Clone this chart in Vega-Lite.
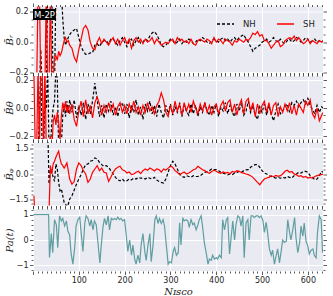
{
"$schema": "https://vega.github.io/schema/vega-lite/v6.json",
"padding": {"left": 4, "top": 2.5, "right": 0, "bottom": 0},
"background": "white",
"bounds": "flush",
"spacing": 3.5,
"config": {
  "view": {"fill": "#EAEAF2", "stroke": null},
  "axis": {"domain": false, "tickColor": "#333333", "tickWidth": 0.8, "labelFont": "DejaVu Sans", "labelFontSize": 8, "labelColor": "#262626", "labelPadding": 1.5, "labelOverlap": false, "titleFont": "DejaVu Serif", "titleFontStyle": "italic", "titleFontWeight": "normal", "titleFontSize": 10, "titleColor": "#262626", "gridColor": "white", "gridWidth": 1}
},
"datasets": {
"b": [
{"n":2,"rN":-0.3,"rS":-0.3,"tN":-0.3,"tS":0.25,"pN":3,"pS":-1.3},
{"n":5,"rN":-0.3,"rS":-0.3,"tN":-0.3,"tS":-0.3,"pN":3,"pS":-3},
{"n":8,"rN":-0.3,"rS":-0.3,"tN":-0.3,"tS":-0.3,"pN":3,"pS":-3},
{"n":11,"rN":-0.3,"rS":0.35,"tN":-0.3,"tS":0.3,"pN":3,"pS":-3},
{"n":14,"rN":-0.3,"rS":0.35,"tN":-0.05,"tS":-0.3,"pN":3,"pS":-3},
{"n":17,"rN":-0.05,"rS":-0.3,"tN":0.3,"tS":0.3,"pN":3,"pS":-3},
{"n":20,"rN":-0.3,"rS":-0.3,"tN":-0.3,"tS":0.3,"pN":3,"pS":-3},
{"n":23,"rN":-0.3,"rS":-0.3,"tN":-0.3,"tS":-0.3,"pN":3,"pS":-3},
{"n":26,"rN":-0.3,"rS":-0.3,"tN":0.05,"tS":0.3,"pN":3,"pS":-3},
{"n":29,"rN":-0.3,"rS":0.35,"tN":0.0,"tS":-0.3,"pN":3,"pS":-3},
{"n":32,"rN":0.35,"rS":-0.3,"tN":0.3,"tS":-0.3,"pN":3,"pS":-3},
{"n":35,"rN":0.35,"rS":-0.3,"tN":-0.3,"tS":-0.25,"pN":-0.6,"pS":-2.2},
{"n":38,"rN":0.35,"rS":0.35,"tN":-0.3,"tS":-0.2,"pN":0.3,"pS":0.5},
{"n":41,"rN":0.35,"rS":-0.3,"tN":-0.1,"tS":-0.3,"pN":0.16,"pS":0.0},
{"n":44,"rN":-0.3,"rS":-0.25,"tN":0.0,"tS":-0.1,"pN":-0.2,"pS":0.6},
{"n":47,"rN":-0.3,"rS":-0.1,"tN":0.05,"tS":-0.05,"pN":-0.44,"pS":0.76},
{"n":50,"rN":0.35,"rS":-0.09,"tN":0.3,"tS":-0.12,"pN":0.6,"pS":1.0},
{"n":53,"rN":0.35,"rS":-0.12,"tN":0.2,"tS":-0.03,"pN":0.3,"pS":1.2},
{"n":56,"rN":0.35,"rS":-0.06,"tN":-0.3,"tS":-0.1,"pN":-0.5,"pS":1.36},
{"n":59,"rN":0.35,"rS":-0.09,"tN":-0.3,"tS":-0.23,"pN":-1.0,"pS":0.9},
{"n":62,"rN":0.35,"rS":-0.07,"tN":-0.25,"tS":-0.05,"pN":-0.9,"pS":0.6},
{"n":65,"rN":0.15,"rS":-0.03,"tN":-0.05,"tS":0.04,"pN":-1.3,"pS":0.5},
{"n":68,"rN":0.03,"rS":0.01,"tN":0.03,"tS":-0.02,"pN":-1.7,"pS":0.36},
{"n":71,"rN":-0.02,"rS":0.03,"tN":-0.06,"tS":0.05,"pN":-1.8,"pS":0.5},
{"n":74,"rN":0.01,"rS":0.0,"tN":0.05,"tS":-0.03,"pN":-1.95,"pS":0.66},
{"n":77,"rN":0.03,"rS":0.01,"tN":-0.04,"tS":0.02,"pN":-1.8,"pS":0.2},
{"n":80,"rN":0.05,"rS":-0.02,"tN":0.06,"tS":-0.04,"pN":-1.5,"pS":-0.3},
{"n":85,"rN":0.07,"rS":-0.04,"tN":-0.03,"tS":0.03,"pN":-1.3,"pS":-0.6},
{"n":90,"rN":0.08,"rS":-0.1,"tN":0.06,"tS":-0.08,"pN":-0.95,"pS":-0.45},
{"n":95,"rN":0.09,"rS":-0.13,"tN":-0.07,"tS":-0.13,"pN":-0.6,"pS":0.3},
{"n":100,"rN":0.03,"rS":-0.05,"tN":0.02,"tS":-0.02,"pN":-0.3,"pS":0.66},
{"n":105,"rN":-0.03,"rS":0.02,"tN":-0.05,"tS":0.05,"pN":-0.04,"pS":0.5},
{"n":110,"rN":-0.06,"rS":0.09,"tN":0.04,"tS":-0.06,"pN":0.3,"pS":0.2},
{"n":115,"rN":-0.08,"rS":0.11,"tN":-0.08,"tS":0.06,"pN":0.56,"pS":0.0},
{"n":120,"rN":-0.08,"rS":0.08,"tN":0.03,"tS":-0.04,"pN":0.6,"pS":-0.5},
{"n":125,"rN":-0.07,"rS":0.0,"tN":-0.04,"tS":0.02,"pN":0.76,"pS":-0.3},
{"n":130,"rN":-0.07,"rS":-0.04,"tN":0.05,"tS":-0.07,"pN":0.8,"pS":0.1},
{"n":135,"rN":-0.02,"rS":-0.05,"tN":0.18,"tS":0.04,"pN":0.96,"pS":0.3},
{"n":140,"rN":-0.01,"rS":0.0,"tN":0.06,"tS":0.08,"pN":0.9,"pS":0.5},
{"n":145,"rN":-0.03,"rS":0.03,"tN":-0.06,"tS":0.03,"pN":0.7,"pS":0.2},
{"n":150,"rN":0.0,"rS":-0.01,"tN":0.02,"tS":-0.05,"pN":0.56,"pS":0.35},
{"n":155,"rN":0.01,"rS":0.02,"tN":-0.07,"tS":0.02,"pN":0.45,"pS":0.1},
{"n":160,"rN":0.01,"rS":0.0,"tN":0.03,"tS":-0.03,"pN":0.5,"pS":0.06},
{"n":165,"rN":-0.01,"rS":-0.02,"tN":-0.02,"tS":0.04,"pN":0.4,"pS":-0.44},
{"n":170,"rN":0.02,"rS":0.01,"tN":0.05,"tS":-0.02,"pN":0.2,"pS":-0.2},
{"n":175,"rN":0.02,"rS":0.03,"tN":-0.05,"tS":0.03,"pN":0.0,"pS":0.1},
{"n":180,"rN":0.0,"rS":-0.01,"tN":0.01,"tS":-0.05,"pN":-0.2,"pS":0.3},
{"n":185,"rN":-0.02,"rS":0.02,"tN":-0.06,"tS":0.01,"pN":-0.35,"pS":0.4},
{"n":190,"rN":0.01,"rS":-0.02,"tN":0.02,"tS":0.04,"pN":-0.4,"pS":0.46},
{"n":195,"rN":0.03,"rS":0.01,"tN":0.04,"tS":-0.03,"pN":-0.3,"pS":0.25},
{"n":200,"rN":0.0,"rS":0.03,"tN":-0.04,"tS":0.02,"pN":-0.44,"pS":0.2},
{"n":205,"rN":-0.03,"rS":-0.01,"tN":0.03,"tS":-0.04,"pN":-0.4,"pS":0.06},
{"n":210,"rN":0.01,"rS":0.02,"tN":-0.07,"tS":0.03,"pN":-0.3,"pS":0.12},
{"n":215,"rN":0.02,"rS":-0.04,"tN":0.02,"tS":-0.02,"pN":-0.35,"pS":-0.04},
{"n":220,"rN":-0.02,"rS":0.01,"tN":-0.03,"tS":0.05,"pN":-0.25,"pS":0.0},
{"n":225,"rN":0.01,"rS":0.03,"tN":0.06,"tS":-0.03,"pN":-0.3,"pS":0.1},
{"n":230,"rN":0.03,"rS":0.0,"tN":-0.05,"tS":0.01,"pN":-0.2,"pS":0.16},
{"n":235,"rN":-0.01,"rS":0.02,"tN":0.01,"tS":-0.05,"pN":-0.25,"pS":0.02},
{"n":240,"rN":0.0,"rS":-0.01,"tN":-0.08,"tS":0.02,"pN":-0.24,"pS":0.2},
{"n":245,"rN":0.02,"rS":0.02,"tN":0.03,"tS":-0.03,"pN":-0.3,"pS":0.3},
{"n":250,"rN":0.01,"rS":0.0,"tN":-0.02,"tS":0.04,"pN":-0.2,"pS":0.22},
{"n":255,"rN":0.04,"rS":0.01,"tN":0.05,"tS":-0.02,"pN":-0.25,"pS":0.36},
{"n":260,"rN":0.06,"rS":0.03,"tN":-0.04,"tS":0.01,"pN":-0.3,"pS":0.28},
{"n":265,"rN":0.07,"rS":-0.01,"tN":0.02,"tS":-0.04,"pN":-0.2,"pS":0.18},
{"n":270,"rN":0.05,"rS":0.02,"tN":-0.06,"tS":0.02,"pN":-0.35,"pS":0.3},
{"n":275,"rN":0.02,"rS":0.0,"tN":0.03,"tS":0.05,"pN":-0.45,"pS":0.26},
{"n":280,"rN":-0.02,"rS":-0.02,"tN":-0.03,"tS":0.11,"pN":-0.5,"pS":0.12},
{"n":285,"rN":-0.03,"rS":-0.01,"tN":-0.07,"tS":0.06,"pN":-0.54,"pS":0.3},
{"n":290,"rN":-0.02,"rS":0.0,"tN":0.02,"tS":-0.03,"pN":-0.3,"pS":0.24},
{"n":295,"rN":0.0,"rS":-0.01,"tN":-0.04,"tS":-0.06,"pN":0.1,"pS":0.35},
{"n":300,"rN":0.02,"rS":0.01,"tN":0.03,"tS":0.02,"pN":0.5,"pS":0.46},
{"n":305,"rN":0.01,"rS":0.02,"tN":-0.05,"tS":-0.04,"pN":0.76,"pS":0.4},
{"n":310,"rN":-0.01,"rS":-0.01,"tN":0.01,"tS":0.05,"pN":0.6,"pS":0.2},
{"n":315,"rN":0.0,"rS":0.03,"tN":-0.03,"tS":-0.02,"pN":0.3,"pS":0.1},
{"n":320,"rN":0.02,"rS":0.01,"tN":0.04,"tS":0.03,"pN":0.0,"pS":-0.04},
{"n":325,"rN":-0.01,"rS":0.02,"tN":-0.06,"tS":-0.05,"pN":-0.14,"pS":0.05},
{"n":330,"rN":0.01,"rS":0.0,"tN":0.02,"tS":0.04,"pN":-0.2,"pS":0.12},
{"n":335,"rN":0.0,"rS":0.01,"tN":-0.02,"tS":-0.02,"pN":-0.1,"pS":0.0},
{"n":340,"rN":0.02,"rS":-0.01,"tN":-0.05,"tS":0.03,"pN":-0.15,"pS":0.06},
{"n":345,"rN":0.01,"rS":0.02,"tN":0.03,"tS":-0.03,"pN":-0.2,"pS":0.15},
{"n":350,"rN":-0.01,"rS":-0.01,"tN":-0.04,"tS":0.05,"pN":-0.1,"pS":0.25},
{"n":355,"rN":0.0,"rS":-0.02,"tN":0.02,"tS":0.0,"pN":-0.15,"pS":0.3},
{"n":360,"rN":0.02,"rS":0.01,"tN":-0.06,"tS":-0.04,"pN":-0.14,"pS":0.46},
{"n":365,"rN":0.01,"rS":0.02,"tN":0.01,"tS":0.03,"pN":-0.1,"pS":0.36},
{"n":370,"rN":0.03,"rS":0.01,"tN":-0.03,"tS":-0.02,"pN":0.0,"pS":0.25},
{"n":375,"rN":0.02,"rS":0.0,"tN":0.04,"tS":0.04,"pN":0.1,"pS":0.2},
{"n":380,"rN":0.0,"rS":0.02,"tN":-0.02,"tS":-0.03,"pN":0.15,"pS":0.1},
{"n":385,"rN":-0.01,"rS":0.01,"tN":-0.05,"tS":0.02,"pN":0.2,"pS":0.04},
{"n":390,"rN":0.01,"rS":-0.01,"tN":0.02,"tS":-0.05,"pN":0.3,"pS":0.15},
{"n":395,"rN":0.02,"rS":0.03,"tN":-0.03,"tS":0.01,"pN":0.26,"pS":0.22},
{"n":400,"rN":0.01,"rS":0.0,"tN":0.03,"tS":0.03,"pN":0.26,"pS":0.16},
{"n":405,"rN":0.0,"rS":0.02,"tN":-0.06,"tS":-0.04,"pN":0.2,"pS":0.08},
{"n":410,"rN":0.02,"rS":0.01,"tN":0.01,"tS":0.02,"pN":0.1,"pS":0.04},
{"n":415,"rN":0.03,"rS":-0.01,"tN":-0.02,"tS":0.05,"pN":0.05,"pS":0.12},
{"n":420,"rN":0.01,"rS":0.02,"tN":0.04,"tS":-0.02,"pN":0.0,"pS":0.06},
{"n":425,"rN":0.02,"rS":0.01,"tN":-0.04,"tS":0.04,"pN":-0.05,"pS":0.1},
{"n":430,"rN":0.0,"rS":0.0,"tN":0.02,"tS":0.06,"pN":0.0,"pS":0.02},
{"n":435,"rN":0.02,"rS":-0.02,"tN":-0.03,"tS":-0.03,"pN":-0.04,"pS":0.15},
{"n":440,"rN":0.03,"rS":0.01,"tN":-0.06,"tS":0.03,"pN":0.05,"pS":0.1},
{"n":445,"rN":0.01,"rS":0.0,"tN":0.03,"tS":-0.05,"pN":0.1,"pS":0.2},
{"n":450,"rN":0.03,"rS":0.02,"tN":-0.02,"tS":0.02,"pN":0.15,"pS":0.16},
{"n":455,"rN":0.04,"rS":0.01,"tN":0.04,"tS":0.06,"pN":0.1,"pS":0.08},
{"n":460,"rN":0.05,"rS":0.0,"tN":-0.05,"tS":-0.04,"pN":0.2,"pS":0.05},
{"n":465,"rN":0.02,"rS":0.02,"tN":-0.02,"tS":0.05,"pN":0.25,"pS":0.0},
{"n":470,"rN":0.0,"rS":0.01,"tN":0.05,"tS":0.07,"pN":0.26,"pS":-0.04},
{"n":475,"rN":-0.03,"rS":0.03,"tN":-0.03,"tS":-0.02,"pN":0.4,"pS":-0.1},
{"n":480,"rN":-0.06,"rS":0.06,"tN":0.02,"tS":0.04,"pN":0.5,"pS":-0.2},
{"n":485,"rN":-0.04,"rS":0.05,"tN":-0.05,"tS":-0.06,"pN":0.56,"pS":-0.35},
{"n":490,"rN":-0.03,"rS":0.07,"tN":-0.08,"tS":0.03,"pN":0.56,"pS":-0.5},
{"n":495,"rN":-0.02,"rS":0.04,"tN":0.01,"tS":-0.04,"pN":0.4,"pS":-0.64},
{"n":500,"rN":0.0,"rS":0.05,"tN":-0.03,"tS":0.02,"pN":0.2,"pS":-0.45},
{"n":505,"rN":0.01,"rS":0.01,"tN":0.03,"tS":0.05,"pN":0.06,"pS":-0.3},
{"n":510,"rN":0.02,"rS":0.01,"tN":-0.05,"tS":-0.03,"pN":0.0,"pS":-0.24},
{"n":515,"rN":0.0,"rS":-0.01,"tN":0.02,"tS":0.04,"pN":-0.1,"pS":-0.2},
{"n":520,"rN":0.01,"rS":-0.04,"tN":-0.04,"tS":-0.05,"pN":-0.15,"pS":-0.1},
{"n":525,"rN":0.03,"rS":-0.02,"tN":-0.09,"tS":0.02,"pN":-0.2,"pS":-0.16},
{"n":530,"rN":0.01,"rS":0.0,"tN":-0.02,"tS":0.04,"pN":-0.24,"pS":-0.08},
{"n":535,"rN":0.0,"rS":0.01,"tN":0.03,"tS":-0.06,"pN":-0.2,"pS":-0.14},
{"n":540,"rN":0.02,"rS":-0.03,"tN":-0.04,"tS":0.01,"pN":-0.25,"pS":-0.1},
{"n":545,"rN":0.0,"rS":-0.02,"tN":-0.02,"tS":-0.03,"pN":-0.2,"pS":0.0},
{"n":550,"rN":-0.01,"rS":0.01,"tN":0.01,"tS":0.03,"pN":-0.24,"pS":0.16},
{"n":555,"rN":0.01,"rS":0.02,"tN":0.03,"tS":-0.02,"pN":-0.15,"pS":0.22},
{"n":560,"rN":0.02,"rS":0.03,"tN":-0.03,"tS":0.04,"pN":-0.2,"pS":0.1},
{"n":565,"rN":0.0,"rS":0.02,"tN":0.04,"tS":-0.04,"pN":-0.24,"pS":0.15},
{"n":570,"rN":0.01,"rS":0.04,"tN":0.02,"tS":0.02,"pN":-0.1,"pS":0.0},
{"n":575,"rN":0.03,"rS":0.01,"tN":0.05,"tS":-0.05,"pN":0.0,"pS":-0.05},
{"n":580,"rN":0.02,"rS":0.03,"tN":0.01,"tS":0.03,"pN":0.1,"pS":-0.14},
{"n":585,"rN":0.0,"rS":0.01,"tN":0.04,"tS":0.0,"pN":0.05,"pS":-0.1},
{"n":590,"rN":0.01,"rS":-0.01,"tN":0.06,"tS":-0.03,"pN":0.16,"pS":-0.2},
{"n":595,"rN":0.03,"rS":0.0,"tN":0.03,"tS":0.05,"pN":0.16,"pS":-0.15},
{"n":600,"rN":0.02,"rS":0.02,"tN":0.07,"tS":0.02,"pN":0.1,"pS":-0.24},
{"n":605,"rN":0.0,"rS":-0.01,"tN":0.02,"tS":0.06,"pN":-0.1,"pS":-0.2},
{"n":610,"rN":0.01,"rS":0.01,"tN":-0.01,"tS":-0.04,"pN":-0.2,"pS":-0.25},
{"n":615,"rN":0.02,"rS":0.0,"tN":-0.04,"tS":-0.07,"pN":-0.34,"pS":-0.15},
{"n":620,"rN":0.0,"rS":-0.01,"tN":0.02,"tS":0.0,"pN":-0.3,"pS":-0.1},
{"n":625,"rN":0.01,"rS":0.01,"tN":-0.03,"tS":-0.09,"pN":-0.1,"pS":-0.05},
{"n":630,"rN":0.0,"rS":0.0,"tN":0.01,"tS":-0.05,"pN":0.16,"pS":-0.04},
{"n":633,"rN":0.01,"rS":0.01,"tN":0.0,"tS":-0.03,"pN":0.1,"pS":0.0}
],
"pa": [
{"n":1,"v":1},{"n":34,"v":1},{"n":36,"v":-0.69},{"n":40,"v":0.25},{"n":43,"v":-0.5},{"n":47,"v":0.8},{"n":51,"v":0.6},{"n":54,"v":-0.3},{"n":58,"v":0.95},{"n":62,"v":0.75},{"n":65,"v":0.85},{"n":69,"v":0.55},{"n":73,"v":0.75},{"n":76,"v":0.35},{"n":80,"v":0.2},{"n":83,"v":-0.5},{"n":87,"v":-0.95},{"n":91,"v":-0.3},{"n":94,"v":0.55},{"n":98,"v":0.8},{"n":102,"v":0.9},{"n":105,"v":0.3},{"n":109,"v":-0.45},{"n":113,"v":0.65},{"n":116,"v":0.95},{"n":120,"v":0.85},{"n":124,"v":0.55},{"n":127,"v":0.8},{"n":131,"v":0.4},{"n":134,"v":0.75},{"n":138,"v":0.6},{"n":142,"v":-0.15},{"n":146,"v":-0.9},{"n":149,"v":-0.2},{"n":153,"v":0.55},{"n":156,"v":0.85},{"n":160,"v":0.6},{"n":164,"v":0.95},{"n":167,"v":0.4},{"n":171,"v":0.85},{"n":175,"v":0.8},{"n":178,"v":0.85},{"n":182,"v":0.8},{"n":185,"v":0.9},{"n":189,"v":0.8},{"n":192,"v":0.85},{"n":196,"v":0.75},{"n":200,"v":0.8},{"n":204,"v":0.1},{"n":207,"v":-0.45},{"n":211,"v":0},{"n":215,"v":-0.6},{"n":218,"v":-0.2},{"n":222,"v":-0.75},{"n":225,"v":-0.95},{"n":229,"v":-0.6},{"n":233,"v":-0.9},{"n":236,"v":-0.2},{"n":240,"v":0.25},{"n":244,"v":-0.45},{"n":247,"v":-0.8},{"n":251,"v":-0.2},{"n":255,"v":0.25},{"n":258,"v":-0.85},{"n":262,"v":-0.2},{"n":266,"v":0.8},{"n":269,"v":0.95},{"n":273,"v":0.65},{"n":276,"v":0.85},{"n":280,"v":0.65},{"n":284,"v":0.8},{"n":287,"v":0.55},{"n":291,"v":-0.2},{"n":295,"v":-0.95},{"n":298,"v":-0.85},{"n":302,"v":-0.9},{"n":306,"v":-0.45},{"n":309,"v":-0.3},{"n":313,"v":-0.6},{"n":317,"v":-0.5},{"n":320,"v":0.68},{"n":323,"v":-0.2},{"n":327,"v":0.88},{"n":330,"v":0.75},{"n":334,"v":0.8},{"n":338,"v":0.75},{"n":341,"v":0.5},{"n":345,"v":0.8},{"n":349,"v":0.6},{"n":352,"v":0.67},{"n":356,"v":0.4},{"n":360,"v":0.6},{"n":363,"v":0.8},{"n":367,"v":0.95},{"n":370,"v":0.55},{"n":374,"v":-0.1},{"n":378,"v":-0.5},{"n":382,"v":-0.95},{"n":385,"v":-0.75},{"n":389,"v":-0.8},{"n":392,"v":-0.6},{"n":396,"v":-0.75},{"n":400,"v":-0.7},{"n":403,"v":-0.75},{"n":407,"v":-0.6},{"n":411,"v":-0.7},{"n":414,"v":0.8},{"n":418,"v":0.4},{"n":422,"v":0.8},{"n":425,"v":0.88},{"n":429,"v":-0.55},{"n":432,"v":0},{"n":436,"v":0.75},{"n":440,"v":0},{"n":443,"v":0.6},{"n":447,"v":0.95},{"n":451,"v":0.88},{"n":454,"v":0.55},{"n":458,"v":0.95},{"n":461,"v":-0.7},{"n":465,"v":0.67},{"n":469,"v":0.8},{"n":472,"v":0},{"n":476,"v":0.95},{"n":480,"v":0.95},{"n":483,"v":0.88},{"n":487,"v":0.95},{"n":491,"v":0.95},{"n":494,"v":0.88},{"n":498,"v":0.95},{"n":502,"v":0.75},{"n":505,"v":0.3},{"n":509,"v":0.7},{"n":512,"v":0.3},{"n":516,"v":-0.35},{"n":520,"v":-0.6},{"n":523,"v":-0.4},{"n":527,"v":-0.95},{"n":531,"v":-0.6},{"n":534,"v":-0.35},{"n":538,"v":-0.9},{"n":542,"v":-0.4},{"n":545,"v":0},{"n":549,"v":-0.1},{"n":553,"v":-0.05},{"n":556,"v":0.8},{"n":560,"v":0.3},{"n":563,"v":0},{"n":567,"v":0.4},{"n":571,"v":0.88},{"n":574,"v":0.1},{"n":578,"v":-0.5},{"n":582,"v":-0.1},{"n":585,"v":0.55},{"n":589,"v":0.15},{"n":592,"v":0.67},{"n":596,"v":-0.05},{"n":600,"v":-0.25},{"n":603,"v":-0.55},{"n":607,"v":-0.4},{"n":611,"v":-0.35},{"n":614,"v":-0.6},{"n":618,"v":-0.7},{"n":621,"v":0.3},{"n":625,"v":0.95},{"n":629,"v":0.8},{"n":632,"v":-0.5}
]
},
"vconcat": [
{
  "width": 290, "height": 66,
  "resolve": {"axis": {"x": "independent", "y": "independent"}},
  "layer": [
    {
      "data": {"name": "b"},
      "transform": [{"fold": ["rN", "rS"], "as": ["k", "v"]}],
      "mark": {"type": "line", "clip": true, "strokeWidth": 1.2},
      "encoding": {
        "x": {"field": "n", "type": "quantitative", "scale": {"domain": [0, 633], "nice": false, "zero": false},
              "axis": {"orient": "bottom", "values": [0,10,20,30,40,50,60,70,80,90,100,110,120,130,140,150,160,170,180,190,200,210,220,230,240,250,260,270,280,290,300,310,320,330,340,350,360,370,380,390,400,410,420,430,440,450,460,470,480,490,500,510,520,530,540,550,560,570,580,590,600,610,620,630], "labels": false, "title": null, "grid": true,
                       "gridOpacity": {"condition": {"test": "datum.value % 100 === 0", "value": 1}, "value": 0},
                       "tickSize": {"condition": {"test": "datum.value % 100 === 0", "value": 3.5}, "value": 2}}},
        "y": {"field": "v", "type": "quantitative", "scale": {"domain": [-0.2, 0.235], "nice": false, "zero": false},
              "axis": {"orient": "left", "values": [-0.2,-0.15,-0.1,-0.05,0,0.05,0.1,0.15,0.2], "title": "B̄ᵣ", "minExtent": 18, "maxExtent": 18, "titlePadding": 1, "grid": true,
                       "labelExpr": "abs(datum.value) < 0.001 || abs(abs(datum.value) - 0.2) < 0.001 ? format(datum.value, '.1f') : ''",
                       "gridOpacity": {"condition": {"test": "abs(datum.value) < 0.001 || abs(abs(datum.value) - 0.2) < 0.001", "value": 1}, "value": 0},
                       "tickSize": {"condition": {"test": "abs(datum.value) < 0.001 || abs(abs(datum.value) - 0.2) < 0.001", "value": 3.5}, "value": 2}}},
        "color": {"field": "k", "type": "nominal", "scale": {"domain": ["rN", "rS"], "range": ["black", "#ff0000"]},
                  "legend": {"title": null, "orient": "top-right", "direction": "horizontal", "offset": 8, "padding": 0, "symbolType": "stroke", "symbolSize": 289, "symbolStrokeWidth": 1.4, "labelFont": "DejaVu Sans", "labelFontSize": 8.5, "labelColor": "#262626", "labelOffset": 8, "columnPadding": 18, "labelExpr": "datum.label == 'rN' ? 'NH' : 'SH'"}},
        "strokeDash": {"field": "k", "type": "nominal", "scale": {"domain": ["rN", "rS"], "range": [[3, 2], [1, 0]]},
                  "legend": {"title": null, "orient": "top-right", "direction": "horizontal", "offset": 8, "padding": 0, "symbolType": "stroke", "symbolSize": 289, "symbolStrokeWidth": 1.4, "labelFont": "DejaVu Sans", "labelFontSize": 8.5, "labelColor": "#262626", "labelOffset": 8, "columnPadding": 18, "labelExpr": "datum.label == 'rN' ? 'NH' : 'SH'"}}
      }
    },
    {
      "data": {"name": "b"},
      "mark": {"type": "line", "opacity": 0, "clip": true},
      "encoding": {
        "x": {"field": "n", "type": "quantitative", "scale": {"domain": [0, 633], "nice": false, "zero": false},
              "axis": {"orient": "top", "values": [0,10,20,30,40,50,60,70,80,90,100,110,120,130,140,150,160,170,180,190,200,210,220,230,240,250,260,270,280,290,300,310,320,330,340,350,360,370,380,390,400,410,420,430,440,450,460,470,480,490,500,510,520,530,540,550,560,570,580,590,600,610,620,630], "labels": false, "title": null, "grid": false,
                       "tickSize": {"condition": {"test": "datum.value % 100 === 0", "value": 3.5}, "value": 2}}},
        "y": {"field": "rS", "type": "quantitative", "scale": {"domain": [-0.2, 0.235], "nice": false, "zero": false},
              "axis": {"orient": "right", "values": [-0.2,-0.15,-0.1,-0.05,0,0.05,0.1,0.15,0.2], "labels": false, "title": null, "grid": false,
                       "tickSize": {"condition": {"test": "abs(datum.value) < 0.001 || abs(abs(datum.value) - 0.2) < 0.001", "value": 3.5}, "value": 2}}}
      }
    },
    {
      "data": {"values": [{}]},
      "mark": {"type": "rect", "color": "black"},
      "encoding": {
        "x": {"datum": 0, "type": "quantitative", "scale": {"domain": [0, 633], "nice": false, "zero": false}, "axis": null},
        "x2": {"datum": 50},
        "y": {"datum": 0.219, "type": "quantitative", "scale": {"domain": [-0.2, 0.235], "nice": false, "zero": false}, "axis": null},
        "y2": {"datum": 0.146}
      }
    },
    {
      "data": {"values": [{}]},
      "mark": {"type": "text", "text": "M-2P", "color": "white", "font": "DejaVu Sans", "fontSize": 8.5, "align": "center", "baseline": "middle"},
      "encoding": {
        "x": {"datum": 25, "type": "quantitative", "scale": {"domain": [0, 633], "nice": false, "zero": false}, "axis": null},
        "y": {"datum": 0.182, "type": "quantitative", "scale": {"domain": [-0.2, 0.235], "nice": false, "zero": false}, "axis": null}
      }
    }
  ]
},
{
  "width": 290, "height": 63,
  "resolve": {"axis": {"x": "independent", "y": "independent"}},
  "layer": [
    {
      "data": {"name": "b"},
      "mark": {"type": "line", "clip": true, "strokeWidth": 1.2, "color": "black", "strokeDash": [3, 2]},
      "encoding": {
        "x": {"field": "n", "type": "quantitative", "scale": {"domain": [0, 633], "nice": false, "zero": false},
              "axis": {"orient": "bottom", "values": [0,10,20,30,40,50,60,70,80,90,100,110,120,130,140,150,160,170,180,190,200,210,220,230,240,250,260,270,280,290,300,310,320,330,340,350,360,370,380,390,400,410,420,430,440,450,460,470,480,490,500,510,520,530,540,550,560,570,580,590,600,610,620,630], "labels": false, "title": null, "grid": true,
                       "gridOpacity": {"condition": {"test": "datum.value % 100 === 0", "value": 1}, "value": 0},
                       "tickSize": {"condition": {"test": "datum.value % 100 === 0", "value": 3.5}, "value": 2}}},
        "y": {"field": "tN", "type": "quantitative", "scale": {"domain": [-0.22, 0.23], "nice": false, "zero": false},
              "axis": {"orient": "left", "values": [-0.2,-0.15,-0.1,-0.05,0,0.05,0.1,0.15,0.2], "title": "B̄θ", "minExtent": 18, "maxExtent": 18, "titlePadding": 1, "grid": true,
                       "labelExpr": "abs(datum.value) < 0.001 || abs(abs(datum.value) - 0.2) < 0.001 ? format(datum.value, '.1f') : ''",
                       "gridOpacity": {"condition": {"test": "abs(datum.value) < 0.001 || abs(abs(datum.value) - 0.2) < 0.001", "value": 1}, "value": 0},
                       "tickSize": {"condition": {"test": "abs(datum.value) < 0.001 || abs(abs(datum.value) - 0.2) < 0.001", "value": 3.5}, "value": 2}}}
      }
    },
    {
      "data": {"name": "b"},
      "mark": {"type": "line", "clip": true, "strokeWidth": 1.2, "color": "#ff0000"},
      "encoding": {
        "x": {"field": "n", "type": "quantitative", "scale": {"domain": [0, 633], "nice": false, "zero": false}, "axis": null},
        "y": {"field": "tS", "type": "quantitative", "scale": {"domain": [-0.22, 0.23], "nice": false, "zero": false}, "axis": null}
      }
    },
    {
      "data": {"name": "b"},
      "mark": {"type": "line", "opacity": 0, "clip": true},
      "encoding": {
        "x": {"field": "n", "type": "quantitative", "scale": {"domain": [0, 633], "nice": false, "zero": false},
              "axis": {"orient": "top", "values": [0,10,20,30,40,50,60,70,80,90,100,110,120,130,140,150,160,170,180,190,200,210,220,230,240,250,260,270,280,290,300,310,320,330,340,350,360,370,380,390,400,410,420,430,440,450,460,470,480,490,500,510,520,530,540,550,560,570,580,590,600,610,620,630], "labels": false, "title": null, "grid": false,
                       "tickSize": {"condition": {"test": "datum.value % 100 === 0", "value": 3.5}, "value": 2}}},
        "y": {"field": "tS", "type": "quantitative", "scale": {"domain": [-0.22, 0.23], "nice": false, "zero": false},
              "axis": {"orient": "right", "values": [-0.2,-0.15,-0.1,-0.05,0,0.05,0.1,0.15,0.2], "labels": false, "title": null, "grid": false,
                       "tickSize": {"condition": {"test": "abs(datum.value) < 0.001 || abs(abs(datum.value) - 0.2) < 0.001", "value": 3.5}, "value": 2}}}
      }
    }
  ]
},
{
  "width": 290, "height": 63,
  "resolve": {"axis": {"x": "independent", "y": "independent"}},
  "layer": [
    {
      "data": {"name": "b"},
      "mark": {"type": "line", "clip": true, "strokeWidth": 1.2, "color": "black", "strokeDash": [3, 2]},
      "encoding": {
        "x": {"field": "n", "type": "quantitative", "scale": {"domain": [0, 633], "nice": false, "zero": false},
              "axis": {"orient": "bottom", "values": [0,10,20,30,40,50,60,70,80,90,100,110,120,130,140,150,160,170,180,190,200,210,220,230,240,250,260,270,280,290,300,310,320,330,340,350,360,370,380,390,400,410,420,430,440,450,460,470,480,490,500,510,520,530,540,550,560,570,580,590,600,610,620,630], "labels": false, "title": null, "grid": true,
                       "gridOpacity": {"condition": {"test": "datum.value % 100 === 0", "value": 1}, "value": 0},
                       "tickSize": {"condition": {"test": "datum.value % 100 === 0", "value": 3.5}, "value": 2}}},
        "y": {"field": "pN", "type": "quantitative", "scale": {"domain": [-1.88, 1.88], "nice": false, "zero": false},
              "axis": {"orient": "left", "values": [-1.75,-1.5,-1.25,-1,-0.75,-0.5,-0.25,0,0.25,0.5,0.75,1,1.25,1.5,1.75], "title": "B̄ᵩ", "minExtent": 18, "maxExtent": 18, "titlePadding": 1, "grid": true,
                       "labelExpr": "abs(datum.value) < 0.001 || abs(abs(datum.value) - 1.5) < 0.001 ? format(datum.value, '.1f') : ''",
                       "gridOpacity": {"condition": {"test": "abs(datum.value) < 0.001 || abs(abs(datum.value) - 1.5) < 0.001", "value": 1}, "value": 0},
                       "tickSize": {"condition": {"test": "abs(datum.value) < 0.001 || abs(abs(datum.value) - 1.5) < 0.001", "value": 3.5}, "value": 2}}}
      }
    },
    {
      "data": {"name": "b"},
      "mark": {"type": "line", "clip": true, "strokeWidth": 1.2, "color": "#ff0000"},
      "encoding": {
        "x": {"field": "n", "type": "quantitative", "scale": {"domain": [0, 633], "nice": false, "zero": false}, "axis": null},
        "y": {"field": "pS", "type": "quantitative", "scale": {"domain": [-1.88, 1.88], "nice": false, "zero": false}, "axis": null}
      }
    },
    {
      "data": {"name": "b"},
      "mark": {"type": "line", "opacity": 0, "clip": true},
      "encoding": {
        "x": {"field": "n", "type": "quantitative", "scale": {"domain": [0, 633], "nice": false, "zero": false},
              "axis": {"orient": "top", "values": [0,10,20,30,40,50,60,70,80,90,100,110,120,130,140,150,160,170,180,190,200,210,220,230,240,250,260,270,280,290,300,310,320,330,340,350,360,370,380,390,400,410,420,430,440,450,460,470,480,490,500,510,520,530,540,550,560,570,580,590,600,610,620,630], "labels": false, "title": null, "grid": false,
                       "tickSize": {"condition": {"test": "datum.value % 100 === 0", "value": 3.5}, "value": 2}}},
        "y": {"field": "pS", "type": "quantitative", "scale": {"domain": [-1.88, 1.88], "nice": false, "zero": false},
              "axis": {"orient": "right", "values": [-1.75,-1.5,-1.25,-1,-0.75,-0.5,-0.25,0,0.25,0.5,0.75,1,1.25,1.5,1.75], "labels": false, "title": null, "grid": false,
                       "tickSize": {"condition": {"test": "abs(datum.value) < 0.001 || abs(abs(datum.value) - 1.5) < 0.001", "value": 3.5}, "value": 2}}}
      }
    }
  ]
},
{
  "width": 290, "height": 62,
  "resolve": {"axis": {"x": "independent", "y": "independent"}},
  "layer": [
    {
      "data": {"name": "pa"},
      "mark": {"type": "line", "clip": true, "strokeWidth": 1.2, "color": "#5F9EA0"},
      "encoding": {
        "x": {"field": "n", "type": "quantitative", "scale": {"domain": [0, 633], "nice": false, "zero": false},
              "axis": {"orient": "bottom", "values": [0,10,20,30,40,50,60,70,80,90,100,110,120,130,140,150,160,170,180,190,200,210,220,230,240,250,260,270,280,290,300,310,320,330,340,350,360,370,380,390,400,410,420,430,440,450,460,470,480,490,500,510,520,530,540,550,560,570,580,590,600,610,620,630], "title": "Nɪꜱᴄᴏ", "titlePadding": 2, "grid": true,
                       "labelExpr": "datum.value % 100 === 0 && datum.value > 0 ? datum.label : ''",
                       "gridOpacity": {"condition": {"test": "datum.value % 100 === 0", "value": 1}, "value": 0},
                       "tickSize": {"condition": {"test": "datum.value % 100 === 0", "value": 3.5}, "value": 2}}},
        "y": {"field": "v", "type": "quantitative", "scale": {"domain": [-1.22, 1.22], "nice": false, "zero": false},
              "axis": {"orient": "left", "values": [-1.2,-1,-0.8,-0.6,-0.4,-0.2,0,0.2,0.4,0.6,0.8,1,1.2], "title": "Pa(t)", "minExtent": 18, "maxExtent": 18, "titlePadding": 1, "grid": true,
                       "labelExpr": "abs(datum.value) < 0.001 || abs(abs(datum.value) - 1) < 0.001 ? format(datum.value, '.0f') : ''",
                       "gridOpacity": {"condition": {"test": "abs(datum.value) < 0.001 || abs(abs(datum.value) - 1) < 0.001", "value": 1}, "value": 0},
                       "tickSize": {"condition": {"test": "abs(datum.value) < 0.001 || abs(abs(datum.value) - 1) < 0.001", "value": 3.5}, "value": 2}}}
      }
    },
    {
      "data": {"name": "pa"},
      "mark": {"type": "line", "opacity": 0, "clip": true},
      "encoding": {
        "x": {"field": "n", "type": "quantitative", "scale": {"domain": [0, 633], "nice": false, "zero": false},
              "axis": {"orient": "top", "values": [0,10,20,30,40,50,60,70,80,90,100,110,120,130,140,150,160,170,180,190,200,210,220,230,240,250,260,270,280,290,300,310,320,330,340,350,360,370,380,390,400,410,420,430,440,450,460,470,480,490,500,510,520,530,540,550,560,570,580,590,600,610,620,630], "labels": false, "title": null, "grid": false,
                       "tickSize": {"condition": {"test": "datum.value % 100 === 0", "value": 3.5}, "value": 2}}},
        "y": {"field": "v", "type": "quantitative", "scale": {"domain": [-1.22, 1.22], "nice": false, "zero": false},
              "axis": {"orient": "right", "values": [-1.2,-1,-0.8,-0.6,-0.4,-0.2,0,0.2,0.4,0.6,0.8,1,1.2], "labels": false, "title": null, "grid": false,
                       "tickSize": {"condition": {"test": "abs(datum.value) < 0.001 || abs(abs(datum.value) - 1) < 0.001", "value": 3.5}, "value": 2}}}
      }
    }
  ]
}
]
}
